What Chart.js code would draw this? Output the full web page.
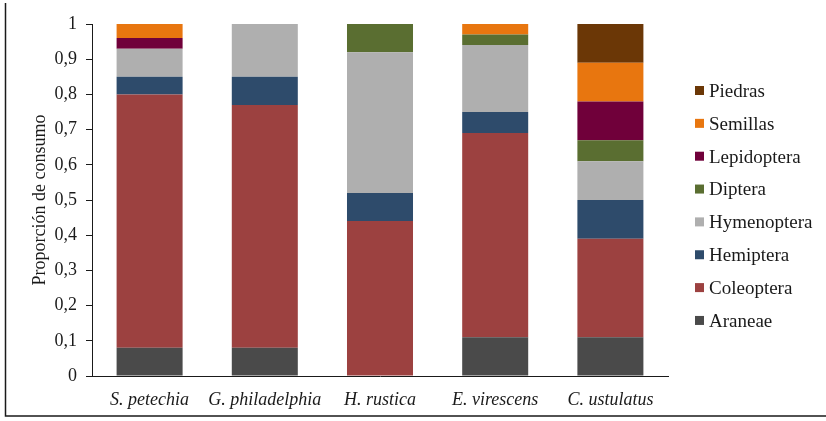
<!DOCTYPE html>
<html>
<head>
<meta charset="utf-8">
<script src="https://cdn.jsdelivr.net/npm/chart.js@4/dist/chart.umd.min.js"></script>
<style>
  html, body { margin: 0; padding: 0; background: #fff; }
  #wrap { width: 826px; height: 421px; position: relative; }
</style>
</head>
<body>
<div id="wrap"><canvas id="c" width="826" height="421"></canvas></div>
<script>
const categories = ["S. petechia", "G. philadelphia", "H. rustica", "E. virescens", "C. ustulatus"];
const araneae     = [0.08, 0.08, 0.00, 0.11, 0.11];
const coleoptera  = [0.72, 0.69, 0.44, 0.58, 0.28];
const hemiptera   = [0.05, 0.08, 0.08, 0.06, 0.11];
const hymenoptera = [0.08, 0.15, 0.40, 0.19, 0.11];
const diptera     = [0.00, 0.00, 0.08, 0.03, 0.06];
const lepidoptera = [0.03, 0.00, 0.00, 0.00, 0.11];
const semillas    = [0.04, 0.00, 0.00, 0.03, 0.11];
const piedras     = [0.00, 0.00, 0.00, 0.00, 0.11];
const yTicks = ["0", "0,1", "0,2", "0,3", "0,4", "0,5", "0,6", "0,7", "0,8", "0,9", "1"];

const serif = "'Liberation Serif', 'Times New Roman', serif";
const ink = '#1a1a1a';

const frame = {
  id: 'frame',
  afterDraw(chart) {
    const ctx = chart.ctx;
    ctx.save();
    ctx.strokeStyle = ink;
    ctx.lineWidth = 1.5;
    ctx.beginPath();
    ctx.moveTo(5.5, 3);
    ctx.lineTo(5.5, 416);
    ctx.lineTo(826, 416);
    ctx.stroke();
    ctx.restore();
  }
};

// Legend drawn from the chart's own datasets (reversed order, as in the reference)
const sideLegend = {
  id: 'sideLegend',
  afterDraw(chart) {
    const ctx = chart.ctx;
    const dsets = chart.data.datasets;
    const x0 = chart.chartArea.right + 27;
    const y0 = 90.5, step = 32.85, box = 9;
    ctx.save();
    ctx.font = "19px " + serif;
    ctx.textBaseline = 'alphabetic';
    ctx.textAlign = 'left';
    for (let k = 0; k < dsets.length; k++) {
      const d = dsets[dsets.length - 1 - k];
      const cy = y0 + k * step;
      ctx.fillStyle = d.backgroundColor;
      ctx.fillRect(x0, cy - box / 2, box, box);
      ctx.fillStyle = ink;
      ctx.fillText(d.label, x0 + 14, cy + 6.3);
    }
    ctx.restore();
  }
};

function ds(label, data, color) {
  return { label, data, backgroundColor: color, borderWidth: 0,
           barPercentage: 0.573, categoryPercentage: 1.0 };
}

new Chart(document.getElementById('c'), {
  type: 'bar',
  data: {
    labels: categories,
    datasets: [
      ds('Araneae', araneae, '#4a4a4a'),
      ds('Coleoptera', coleoptera, '#9c4140'),
      ds('Hemiptera', hemiptera, '#2e4b6b'),
      ds('Hymenoptera', hymenoptera, '#afafaf'),
      ds('Diptera', diptera, '#5a6e31'),
      ds('Lepidoptera', lepidoptera, '#70003a'),
      ds('Semillas', semillas, '#e8760f'),
      ds('Piedras', piedras, '#6b3706')
    ]
  },
  options: {
    responsive: false,
    animation: false,
    devicePixelRatio: 1,
    layout: { padding: { top: 24, left: 29, right: 158, bottom: 0 } },
    plugins: {
      tooltip: { enabled: false },
      legend: { display: false }
    },
    scales: {
      x: {
        stacked: true,
        afterFit(axis) { axis.height = 45; },
        grid: { display: false, drawTicks: false },
        border: { display: true, color: ink, width: 1 },
        ticks: { color: ink, padding: 13, maxRotation: 0, minRotation: 0, autoSkip: false,
                 font: { family: serif, size: 18, style: 'italic' } }
      },
      y: {
        stacked: true,
        min: 0, max: 1,
        afterFit(axis) { axis.width = 63; },
        afterBuildTicks(axis) {
          axis.ticks = yTicks.map((t, i) => ({ value: i / 10 }));
        },
        grid: { drawOnChartArea: false, drawTicks: true, tickLength: 6, color: ink },
        border: { display: true, color: ink, width: 1 },
        ticks: {
          color: ink, padding: 9,
          font: { family: serif, size: 18 },
          callback(v, i) { return yTicks[i]; }
        },
        title: {
          display: true, text: 'Proporción de consumo', color: ink,
          font: { family: serif, size: 18 }, padding: { top: 0, bottom: 0 }
        }
      }
    }
  },
  plugins: [frame, sideLegend]
});
</script>
</body>
</html>
